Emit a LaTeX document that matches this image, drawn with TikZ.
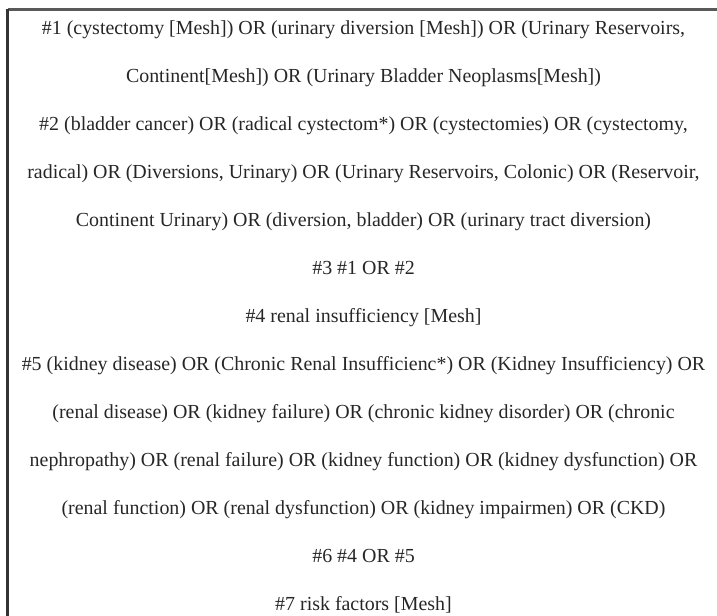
\documentclass[tikz,border=0pt]{standalone}
\usepackage{fontspec}
\setmainfont{Liberation Serif}
\begin{document}
\begin{tikzpicture}[x=0.75pt,y=-0.75pt,
  qline/.style={anchor=base,inner sep=0pt,font=\fontsize{14.95}{18}\selectfont,text=black!85},
  topedge/.style={draw=black!65,line width=1.6pt},
  leftedge/.style={draw=black!80,line width=1.6pt}]
\useasboundingbox (0,0) rectangle (717,616);
\coordinate (tl) at (7.5,9.5);
\coordinate (tr) at (717,9.5);
\coordinate (bl) at (7.5,616);
\draw[topedge] (tl) -- (tr);
\draw[leftedge] (tl) -- (bl);
\def\cx{363.5}
\def\yo{34.5}
\def\dy{48.0}
\node[qline] (l1) at (\cx,\yo) {\#1 (cystectomy [Mesh]) OR (urinary diversion [Mesh]) OR (Urinary Reservoirs,};
\node[qline] (l2) at (\cx,\yo+1*\dy) {Continent[Mesh]) OR (Urinary Bladder Neoplasms[Mesh])};
\node[qline] (l3) at (\cx,\yo+2*\dy) {\#2 (bladder cancer) OR (radical cystectom*) OR (cystectomies) OR (cystectomy,};
\node[qline] (l4) at (\cx,\yo+3*\dy) {radical) OR (Diversions, Urinary) OR (Urinary Reservoirs, Colonic) OR (Reservoir,};
\node[qline] (l5) at (\cx,\yo+4*\dy) {Continent Urinary) OR (diversion, bladder) OR (urinary tract diversion)};
\node[qline] (l6) at (\cx,\yo+5*\dy) {\#3 \#1 OR \#2};
\node[qline] (l7) at (\cx,\yo+6*\dy) {\#4 renal insufficiency [Mesh]};
\node[qline] (l8) at (\cx,\yo+7*\dy) {\#5 (kidney disease) OR (Chronic Renal Insufficienc*) OR (Kidney Insufficiency) OR};
\node[qline] (l9) at (\cx,\yo+8*\dy) {(renal disease) OR (kidney failure) OR (chronic kidney disorder) OR (chronic};
\node[qline] (l10) at (\cx,\yo+9*\dy) {nephropathy) OR (renal failure) OR (kidney function) OR (kidney dysfunction) OR};
\node[qline] (l11) at (\cx,\yo+10*\dy) {(renal function) OR (renal dysfunction) OR (kidney impairmen) OR (CKD)};
\node[qline] (l12) at (\cx,\yo+11*\dy) {\#6 \#4 OR \#5};
\node[qline] (l13) at (\cx,\yo+12*\dy) {\#7 risk factors [Mesh]};
\end{tikzpicture}
\end{document}
